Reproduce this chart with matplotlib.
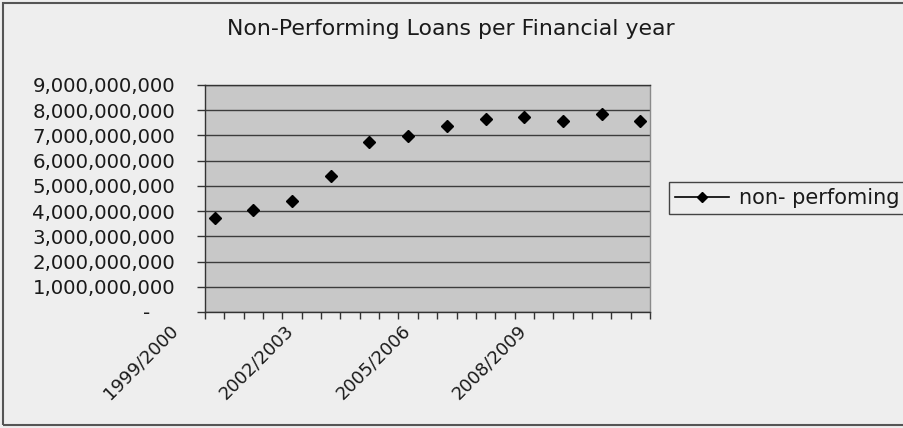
import matplotlib
matplotlib.use('Agg')
import matplotlib.pyplot as plt
import matplotlib.transforms as mtransforms
from matplotlib.lines import Line2D
from matplotlib.patches import Rectangle
import numpy as np

years = ['1999/2000', '2000/2001', '2001/2002', '2002/2003', '2003/2004', '2004/2005',
         '2005/2006', '2006/2007', '2007/2008', '2008/2009', '2009/2010', '2010/2011']
npl = [3.73e9, 4.04e9, 4.40e9, 5.40e9, 6.73e9, 6.98e9,
       7.39e9, 7.64e9, 7.75e9, 7.58e9, 7.85e9, 7.58e9]
y_ticks = [0, 1e9, 2e9, 3e9, 4e9, 5e9, 6e9, 7e9, 8e9, 9e9]
series_name = 'non- perfoming'
title = 'Non-Performing Loans per Financial year'

W, H = 904, 428
fig = plt.figure(figsize=(W / 100, H / 100), dpi=100)
fig.patch.set_facecolor('#eeeeee')
txt = '#1a1a1a'

ax = fig.add_axes([205 / W, 1 - 312 / H, 445 / W, 227 / H])
ax.set_facecolor('#c8c8c8')

x = np.arange(len(years))
ax.plot(x, npl, linestyle='none', marker='D', markersize=5.8, color='black', zorder=3)

ax.set_xlim(-0.25, len(years) - 0.75)
ax.set_ylim(0, 9e9)

# y axis, accounting style: zero shown as a dash
ax.set_yticks(y_ticks)
ax.set_yticklabels(['-' if v == 0 else f'{v:,.0f}' for v in y_ticks])
ax.tick_params(axis='y', length=6, width=1, color='#333333', pad=15.5,
               labelsize=14.2, labelcolor=txt)
ax.yaxis.grid(True, color='#3c3c3c', linewidth=1)
ax.set_axisbelow(True)
zero_lab = ax.get_yticklabels()[0]
zero_lab.set_transform(zero_lab.get_transform() +
                       mtransforms.ScaledTranslation(-0.246, 0, fig.dpi_scale_trans))

# x axis: labels every 3rd year, small ticks at category edges
ax.set_xticks(x[::3])
ax.set_xticklabels(years[::3], rotation=45, ha='right', va='top', rotation_mode='anchor')
ax.set_xticks(np.arange(-0.25, len(years) - 0.5, 0.5), minor=True)
ax.tick_params(axis='x', which='major', length=0, pad=7, labelsize=13, labelcolor=txt)
ax.tick_params(axis='x', which='minor', length=5, width=1, color='#333333')
for lab in ax.get_xticklabels():
    lab.set_transform(lab.get_transform() +
                      mtransforms.ScaledTranslation(-0.46, 0, fig.dpi_scale_trans))

for s in ['left', 'bottom', 'top']:
    ax.spines[s].set_color('#333333')
    ax.spines[s].set_linewidth(1)
ax.spines['right'].set_color('#8a8a8a')
ax.spines['right'].set_linewidth(1)

fig.text(451 / W, 1 - 29 / H, title, ha='center', va='center', fontsize=15.8, color=txt)

handle = Line2D([], [], color='black', marker='D', markersize=5, linewidth=1.2)
leg = fig.legend(handles=[handle], labels=[series_name], loc='center left',
                 bbox_to_anchor=(669 / W, 1 - 198 / H), frameon=True, fancybox=False,
                 edgecolor='#444444', facecolor='#eeeeee', framealpha=1, fontsize=15,
                 handlelength=2.6, borderpad=0.3, handletextpad=0.45, borderaxespad=0)
leg.get_frame().set_linewidth(1)
for t in leg.get_texts():
    t.set_color(txt)

fig.patches.append(Rectangle((3 / W, 3 / H), 1, 422 / H, transform=fig.transFigure,
                             fill=False, edgecolor='#555555', linewidth=1.5))

fig.savefig('out.png', dpi=100, facecolor=fig.get_facecolor())
